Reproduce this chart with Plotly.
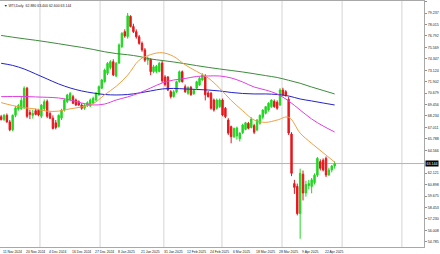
import plotly.graph_objects as go

# ---- data ----
opens = [68.15, 67.85, 68.30, 67.60, 66.75, 68.30, 68.95, 69.00, 69.10, 71.20,
         68.60, 68.30, 68.80, 68.85, 68.20, 69.00, 69.80, 68.50, 68.00, 67.50,
         67.10, 68.00, 68.87, 69.76, 70.00, 70.30, 69.94, 69.76, 69.41, 69.05,
         69.30, 69.30, 69.60, 69.94, 70.50, 71.20, 71.90, 72.79, 73.40, 74.04,
         72.50, 73.90, 75.65, 77.25, 76.72, 78.90, 77.80, 77.25, 76.70, 76.00,
         75.30, 74.20, 74.30, 72.97, 73.00, 73.00, 73.90, 72.40, 72.40, 70.83,
         70.30, 70.83, 71.90, 72.97, 71.37, 70.66, 71.30, 70.60, 71.20, 71.55,
         72.08, 72.50, 70.70, 70.66, 69.94, 69.06, 69.23, 69.94, 69.06, 67.80,
         67.09, 66.00, 66.10, 65.80, 66.45, 66.80, 67.45, 67.00, 67.20, 66.74,
         67.45, 68.10, 68.52, 68.87, 69.23, 69.80, 69.70, 69.41, 71.01, 70.83,
         70.00, 66.30, 61.00, 60.70, 57.80, 62.00, 60.00, 60.80, 60.70, 61.10,
         61.90, 63.35, 63.50, 63.70, 61.95, 62.46, 62.88]
highs = [68.35, 68.45, 68.50, 67.80, 68.40, 69.30, 69.50, 70.30, 71.40, 71.35,
         68.90, 68.90, 69.00, 69.00, 69.50, 70.00, 70.00, 68.70, 68.30, 67.80,
         68.40, 69.00, 70.10, 70.60, 70.80, 70.50, 70.10, 69.90, 69.60, 69.50,
         69.80, 70.10, 70.30, 70.80, 71.50, 72.20, 73.30, 74.00, 74.20, 74.30,
         74.00, 76.00, 77.20, 77.50, 79.25, 79.00, 78.10, 77.50, 76.90, 76.20,
         75.50, 74.60, 74.40, 73.70, 73.70, 74.00, 74.20, 72.60, 72.50, 71.00,
         71.00, 72.00, 73.10, 73.10, 71.60, 71.40, 71.45, 71.10, 72.00, 72.40,
         72.80, 72.70, 70.90, 70.80, 70.10, 70.10, 70.10, 70.10, 69.20, 68.00,
         67.20, 67.00, 67.10, 66.50, 67.40, 67.60, 67.60, 68.10, 67.40, 67.90,
         68.40, 68.95, 69.30, 69.70, 70.00, 70.00, 69.90, 71.20, 71.25, 71.00,
         70.30, 66.50, 61.40, 61.00, 62.60, 62.40, 61.30, 61.40, 61.60, 62.10,
         63.85, 63.60, 63.70, 63.90, 62.70, 63.00, 63.40]
lows = [67.75, 67.70, 67.50, 66.60, 66.60, 68.10, 68.80, 68.90, 69.00, 68.00,
        67.90, 67.95, 68.30, 68.20, 68.00, 68.80, 68.00, 67.90, 66.80, 66.80,
        67.00, 67.80, 68.70, 69.60, 69.80, 69.50, 69.30, 69.30, 68.90, 68.90,
        69.20, 69.20, 69.50, 69.80, 70.40, 71.10, 71.80, 72.60, 73.20, 72.50,
        72.40, 73.80, 75.50, 76.60, 76.50, 77.70, 77.10, 76.50, 75.85, 75.10,
        74.00, 73.70, 72.60, 72.80, 72.80, 72.90, 71.80, 71.40, 70.90, 70.10,
        70.20, 70.70, 71.80, 71.80, 70.70, 70.50, 70.40, 70.50, 71.10, 71.45,
        72.00, 69.90, 70.20, 68.90, 68.70, 68.90, 69.10, 68.20, 68.00, 66.20,
        65.31, 65.90, 65.70, 65.50, 66.30, 66.70, 66.80, 66.90, 66.30, 66.60,
        67.30, 67.90, 68.40, 68.70, 69.10, 69.10, 68.90, 69.30, 70.40, 70.30,
        66.20, 61.80, 59.90, 57.60, 55.10, 59.20, 59.60, 60.40, 59.96, 60.90,
        61.70, 62.40, 62.30, 61.70, 61.80, 62.20, 62.60]
closes = [67.85, 68.30, 67.60, 66.75, 68.30, 69.10, 69.35, 69.90, 71.20, 68.20,
          68.40, 68.50, 68.40, 68.35, 69.40, 69.75, 68.20, 68.00, 66.90, 67.00,
          68.30, 68.87, 69.94, 70.48, 70.65, 69.59, 69.41, 69.41, 69.05, 69.41,
          69.66, 69.94, 70.12, 70.65, 71.37, 72.08, 73.15, 73.86, 74.04, 72.62,
          73.86, 75.83, 77.07, 76.79, 78.95, 77.80, 77.25, 76.70, 76.00, 75.30,
          74.20, 74.40, 72.97, 73.50, 73.55, 73.87, 72.00, 71.60, 71.01, 70.30,
          70.83, 71.90, 72.97, 71.90, 70.83, 71.30, 70.50, 70.95, 71.90, 72.26,
          72.62, 70.50, 70.30, 69.06, 68.87, 69.94, 69.94, 68.34, 68.16, 66.40,
          66.02, 66.90, 66.95, 66.40, 67.27, 67.50, 66.92, 67.90, 66.50, 67.80,
          68.30, 68.87, 69.23, 69.60, 69.94, 69.23, 69.06, 71.01, 70.48, 70.48,
          66.40, 62.10, 60.60, 57.80, 62.10, 60.00, 60.90, 61.00, 61.40, 61.90,
          63.70, 62.64, 62.46, 61.92, 62.46, 62.88, 63.144]

# moving averages, sampled every 4 bars
ma_idx = list(range(0, 117, 4))
ma_orange = [69.66, 69.35, 69.12, 68.98, 68.75, 68.75, 69.00, 69.20, 69.55, 70.50,
             71.40, 72.60, 74.20, 74.80, 75.00, 74.60, 73.70, 73.00, 72.30, 71.20,
             69.90, 68.80, 67.80, 67.55, 67.80, 68.10, 66.40, 65.30, 64.30, 63.30]
ma_magenta = [70.30, 70.32, 70.32, 70.27, 70.23, 70.16, 69.94, 69.62, 69.41, 69.51,
              69.94, 70.27, 70.69, 71.23, 71.76, 72.08, 72.24, 72.46, 72.51, 72.51,
              72.30, 71.87, 71.33, 71.01, 70.59, 69.84, 68.87, 67.91, 67.16, 66.52]
ma_blue = [73.87, 73.64, 73.26, 72.73, 72.19, 71.66, 71.23, 70.91, 70.69, 70.53,
           70.48, 70.53, 70.69, 70.91, 71.12, 71.18, 71.12, 71.07, 71.01, 70.91,
           70.75, 70.64, 70.59, 70.59, 70.53, 70.37, 70.05, 69.84, 69.62, 69.41]
ma_green = [76.85, 76.66, 76.49, 76.33, 76.15, 75.96, 75.76, 75.57, 75.35, 75.10,
            74.91, 74.78, 74.60, 74.33, 74.17, 74.01, 73.82, 73.62, 73.43, 73.26,
            73.10, 72.94, 72.75, 72.55, 72.35, 72.05, 71.73, 71.33, 70.96, 70.59]

date_idx = list(range(0, 113, 8))
date_labels = ["11 Nov 2024", "20 Nov 2024", "4 Dec 2024", "16 Dec 2024", "27 Dec 2024",
               "8 Jan 2025", "21 Jan 2025", "31 Jan 2025", "12 Feb 2025", "24 Feb 2025",
               "6 Mar 2025", "18 Mar 2025", "28 Mar 2025", "9 Apr 2025", "22 Apr 2025"]

price_ticks = ["54.785", "56.008", "57.230", "58.453", "59.675", "60.898", "62.121",
               "64.566", "65.788", "67.011", "68.234", "69.456", "70.679",
               "71.902", "73.124", "74.347", "75.569", "76.792", "78.015", "79.237", "80.460"]

grid_idx = [13.5, 34.4, 56.6, 76.8, 97.7, 118.6, 139.4]

# ---- figure ----
FONT = "Liberation Sans"
GREEN = "#22d622"
RED = "#e8161c"

n = len(closes)
xs = list(range(n))

fig = go.Figure()
fig.add_trace(go.Candlestick(
    x=xs, open=opens, high=highs, low=lows, close=closes,
    increasing=dict(line=dict(color=GREEN, width=1), fillcolor=GREEN),
    decreasing=dict(line=dict(color=RED, width=1), fillcolor=RED),
    whiskerwidth=0, showlegend=False, hoverinfo="skip"))

for vals, col in [(ma_green, "#3d8c3d"), (ma_blue, "#2424c8"),
                  (ma_magenta, "#e040e0"), (ma_orange, "#f0a040")]:
    fig.add_trace(go.Scatter(x=ma_idx, y=vals, mode="lines",
                             line=dict(color=col, width=1, shape="spline"),
                             showlegend=False, hoverinfo="skip"))

shapes = []
for g in grid_idx:
    shapes.append(dict(type="line", xref="x", yref="paper", x0=g, x1=g, y0=0, y1=1,
                       line=dict(color="#d4d4d4", width=1), layer="below"))
shapes.append(dict(type="line", xref="paper", yref="y", x0=0, x1=1,
                   y0=closes[-1], y1=closes[-1],
                   line=dict(color="#b4b4b4", width=1), layer="below"))

annotations = []
for i, lab in zip(date_idx, date_labels):
    annotations.append(dict(x=i, y=0, xref="x", yref="paper", text=lab,
                            showarrow=False, xanchor="left", yanchor="top",
                            yshift=-1, font=dict(family=FONT, size=3.4, color="#202020")))
annotations.append(dict(x=1, y=closes[-1], xref="paper", yref="y",
                        text=f"{closes[-1]:.3f}", showarrow=False,
                        xanchor="left", yanchor="middle", xshift=1,
                        bgcolor="#000000", borderpad=0.6,
                        font=dict(family=FONT, size=3.6, color="#ffffff")))
header = f"\u25BC WTI,Daily  {opens[-1]:.3f} {highs[-1]:.3f} {lows[-1]:.3f} {closes[-1]:.3f}"
annotations.append(dict(x=0, y=1, xref="paper", yref="paper", text=header,
                        showarrow=False, xanchor="left", yanchor="top",
                        xshift=2, yshift=-1,
                        font=dict(family=FONT, size=3.5, color="#202020")))

fig.update_layout(
    width=440, height=254,
    margin=dict(l=0, r=16, t=1, b=7),
    paper_bgcolor="#ffffff", plot_bgcolor="#ffffff",
    showlegend=False,
    shapes=shapes, annotations=annotations,
    xaxis=dict(range=[-0.4, 147.08], showgrid=False, zeroline=False,
               showticklabels=False, ticks="", rangeslider=dict(visible=False),
               showline=True, linecolor="#a8a8a8", linewidth=1, mirror=True),
    yaxis=dict(side="right", range=[54.22, 80.53], showgrid=False, zeroline=False,
               tickmode="array", tickvals=[float(t) for t in price_ticks],
               ticktext=price_ticks, ticks="outside", ticklen=2,
               tickcolor="#909090", tickwidth=1,
               tickfont=dict(family=FONT, size=3.6, color="#202020"),
               showline=True, linecolor="#a8a8a8", linewidth=1, mirror=True),
)

fig.write_html("out.html")
